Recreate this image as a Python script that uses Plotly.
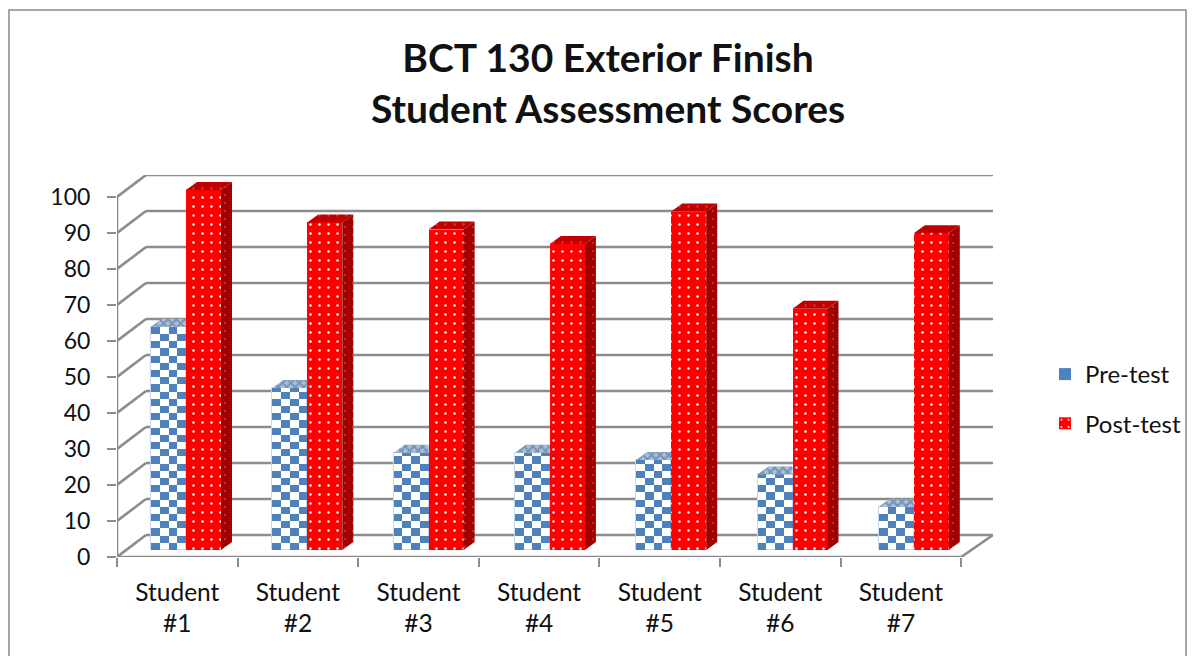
import plotly.graph_objects as go

categories = ["Student<br>#1", "Student<br>#2", "Student<br>#3", "Student<br>#4",
              "Student<br>#5", "Student<br>#6", "Student<br>#7"]
pre_test = [62, 45, 27, 27, 25, 21, 12]
post_test = [100, 91, 89, 85, 94, 67, 88]
y_ticks = list(range(0, 101, 10))

PAGE = 8  # default page margin of the browser
W, H = 1196 - PAGE, 656 - PAGE
L, R, T, B = 117 - PAGE, 993 - PAGE, 175 - PAGE, 557 - PAGE
PX_X = 120.6
PX_Y = 3.6
FONT = "Lato"
TEXT = "#111111"
GRID = "#8c8c8c"
BLUE = "#4F81BD"
RED = "#FF0000"

xr = (R - L) / PX_X
yr = (B - T) / PX_Y
wall_dx, wall_dy = 29 / PX_X, 22 / PX_Y
depth_dx, depth_dy = 11 / PX_X, 8 / PX_Y
floor = 7 / PX_Y
bar_w = 35 / PX_X
pre_off = 34 / PX_X
pitch = 121.3 / PX_X  # the bars stand slightly behind the front edge, so their spacing differs
n = len(categories)
centers = [i + 0.5 for i in range(n)]
pre_x = [i * pitch + pre_off + bar_w / 2 for i in range(n)]
post_x = [i * pitch + pre_off + bar_w * 1.5 for i in range(n)]

shapes = []
ln = dict(color=GRID, width=2.6)
for v in y_ticks:
    shapes.append(dict(type="line", xref="x", yref="y", x0=0, x1=wall_dx, y0=v, y1=v + wall_dy, line=ln, layer="below"))
    shapes.append(dict(type="line", xref="x", yref="y", x0=wall_dx, x1=xr, y0=v + wall_dy, y1=v + wall_dy, line=ln, layer="below"))
shapes.append(dict(type="line", xref="x", yref="y", x0=0, x1=0, y0=0, y1=100, line=ln, layer="below"))
shapes.append(dict(type="line", xref="x", yref="y", x0=0, x1=n, y0=0, y1=0, line=ln, layer="below"))
shapes.append(dict(type="line", xref="x", yref="y", x0=n, x1=xr, y0=0, y1=wall_dy, line=ln, layer="below"))
# chart frame
shapes.append(dict(type="rect", xref="paper", yref="paper",
                   x0=(9 - PAGE - L) / (R - L), x1=(1186 - PAGE - L) / (R - L),
                   y0=(B - 720) / (B - T), y1=(B - (10 - PAGE)) / (B - T),
                   line=dict(color="#8a8a8a", width=1.5), layer="below"))

fig = go.Figure()

# white backing of the checkered bars
fig.add_trace(go.Bar(x=pre_x, y=pre_test, base=[floor] * n, width=bar_w,
                     marker=dict(color="white", line=dict(color="#c9d8ea", width=1)),
                     showlegend=False, hoverinfo="skip"))

# checker cells clipped to each pre-test value
cols, rows = 4, 2.0
cx, cb, ch = [], [], []
for i, v in enumerate(pre_test):
    cw = bar_w / cols
    r = 0
    while r * rows < v:
        for c in range(cols):
            if (r + c) % 2 == 0:
                cx.append(i * pitch + pre_off + cw * (c + 0.5))
                cb.append(floor + r * rows)
                ch.append(min(rows, v - r * rows))
        r += 1
fig.add_trace(go.Bar(x=cx, y=ch, base=cb, width=bar_w / cols, name="Pre-test",
                     legendgroup="pre", marker=dict(color=BLUE, line=dict(width=0))))

fig.add_trace(go.Bar(x=post_x, y=post_test, base=[floor] * n, width=bar_w, name="Post-test",
                     legendgroup="post",
                     marker=dict(color=RED, line=dict(width=0),
                                 pattern=dict(shape=".", fgcolor="white", bgcolor=RED,
                                              size=9, solidity=0.06, fillmode="replace"))))

# top of pre-test bars (the part not hidden by the post-test bar)
tx, ty = [], []
for i, v in enumerate(pre_test):
    a = i * pitch + pre_off
    top = floor + v
    tx += [a, a + bar_w, a + bar_w, a + depth_dx, None]
    ty += [top, top, top + depth_dy, top + depth_dy, None]
fig.add_trace(go.Scatter(x=tx, y=ty, mode="lines", fill="toself", line=dict(width=0),
                         fillcolor="#8fa8c4",
                         fillpattern=dict(shape="x", fgcolor="#3d6796", bgcolor="#a9bfd8", size=6, solidity=0.55),
                         showlegend=False, hoverinfo="skip"))

# top and side of post-test bars
tx, ty, sx, sy = [], [], [], []
for i, v in enumerate(post_test):
    a = i * pitch + pre_off + bar_w
    b = a + bar_w
    top = floor + v
    tx += [a, b, b + depth_dx, a + depth_dx, None]
    ty += [top, top, top + depth_dy, top + depth_dy, None]
    sx += [b, b + depth_dx, b + depth_dx, b, None]
    sy += [floor, floor + depth_dy, top + depth_dy, top, None]
fig.add_trace(go.Scatter(x=tx, y=ty, mode="lines", fill="toself", line=dict(width=0),
                         fillcolor="#c00000",
                         fillpattern=dict(shape=".", fgcolor="#e88080", bgcolor="#c00000", size=9, solidity=0.05),
                         showlegend=False, hoverinfo="skip"))
fig.add_trace(go.Scatter(x=sx, y=sy, mode="lines", fill="toself", line=dict(width=0),
                         fillcolor="#a00000",
                         fillpattern=dict(shape=".", fgcolor="#d88080", bgcolor="#a00000", size=8, solidity=0.05),
                         showlegend=False, hoverinfo="skip"))

fig.update_layout(
    width=W, height=H, autosize=False,
    margin=dict(l=L, r=W - R, t=T, b=H - B, pad=0),
    paper_bgcolor="white", plot_bgcolor="white",
    barmode="overlay", bargap=0,
    shapes=shapes,
    font=dict(family=FONT, size=24, color=TEXT),
    title=dict(text="<b>BCT 130 Exterior Finish<br>Student Assessment Scores</b>",
               x=(608 - PAGE) / W, xanchor="center", y=1 - (72 - PAGE) / H, yanchor="middle",
               font=dict(family=FONT, size=39, color=TEXT)),
    xaxis=dict(range=[0, xr], tickmode="array", tickvals=centers, ticktext=categories,
               ticks="", showgrid=False, showline=False, zeroline=False, ticklabelstandoff=18,
               tickfont=dict(family=FONT, size=24.5, color=TEXT),
               minor=dict(tickmode="array", tickvals=list(range(n + 1)), ticks="outside",
                          ticklen=9, tickwidth=2.4, tickcolor=GRID, showgrid=False)),
    yaxis=dict(range=[0, yr], tickmode="array", tickvals=y_ticks, ticks="outside",
               ticklen=9, tickwidth=2.4, tickcolor=GRID, showgrid=False, showline=False,
               zeroline=False, ticklabelstandoff=12, tickfont=dict(family=FONT, size=23, color=TEXT)),
    legend=dict(xref="container", yref="container",
                x=(1045 - PAGE) / W, xanchor="left", y=1 - (352 - PAGE) / H, yanchor="top",
                bgcolor="rgba(0,0,0,0)", tracegroupgap=15, font=dict(family=FONT, size=24, color=TEXT),
                itemwidth=30),
)
fig.write_html("out.html")
